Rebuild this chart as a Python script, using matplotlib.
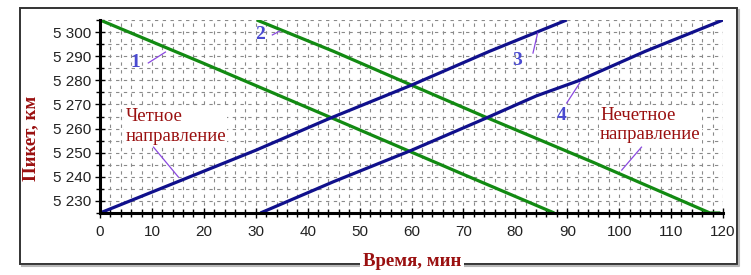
import matplotlib.pyplot as plt
from matplotlib.patches import Rectangle
from matplotlib.lines import Line2D
from matplotlib.ticker import MultipleLocator, FuncFormatter

# train paths: time (min) vs picket (km)
t1 = [0, 20, 44, 70, 87.5]
p1 = [5305, 5287, 5265, 5241, 5225]
t2 = [30.2, 45, 60, 74, 95, 117.5, 119.5]
p2 = [5305, 5292, 5278, 5265, 5246, 5225, 5225]
t3 = [0, 15, 30, 44, 60, 75, 89.9]
p3 = [5225, 5238, 5251, 5264, 5278, 5292, 5305]
t4 = [30.9, 45, 60, 74, 84, 92.4, 105, 120]
p4 = [5225, 5238, 5251, 5264, 5273.5, 5280, 5292, 5305]

x_ticks = list(range(0, 121, 10))
y_ticks = list(range(5230, 5301, 10))

green = '#128a12'
navy = '#10108c'
violet = '#8a48e0'
label_blue = '#4a4ad0'
dark_red = '#9a1010'

fig = plt.figure(figsize=(7.51, 2.75), dpi=100)
ax = fig.add_axes([100/751, 1-213/275, 623/751, 193/275])

ax.plot(t1, p1, color=green, lw=2.3, solid_capstyle='butt')
ax.plot(t2, p2, color=green, lw=2.3, solid_capstyle='butt')
ax.plot(t3, p3, color=navy, lw=2.3, solid_capstyle='butt')
ax.plot(t4, p4, color=navy, lw=2.3, solid_capstyle='butt')

ax.set_xlim(0, 120)
ax.set_ylim(5225, 5305)
ax.set_xticks(x_ticks)
ax.set_yticks(y_ticks)
ax.xaxis.set_minor_locator(MultipleLocator(2))
ax.yaxis.set_minor_locator(MultipleLocator(5))
ax.yaxis.set_major_formatter(FuncFormatter(lambda v, p: f"{int(v):,}".replace(",", " ")))

ax.grid(True, which='both', axis='x', color='#8a8a8a', lw=0.8, ls=(0, (3, 4)))
ax.grid(True, which='both', axis='y', color='#8a8a8a', lw=0.8, ls=(0, (3, 4)))
ax.set_axisbelow(True)

for s in ['top', 'right']:
    ax.spines[s].set_visible(False)
for s in ['left', 'bottom']:
    ax.spines[s].set_linewidth(2.2)
    ax.spines[s].set_color('black')

ax.tick_params(which='both', direction='inout', colors='black', width=1.0,
               labelsize=11, labelfontfamily='Liberation Sans')
ax.tick_params(which='major', length=7)
ax.tick_params(which='minor', length=6)
ax.tick_params(axis='x', pad=5)
ax.tick_params(axis='y', pad=3)
for lab in ax.get_xticklabels() + ax.get_yticklabels():
    lab.set_color('#222222')

# numbered labels with leader lines
nums = [('1', 6.8, 5287.2, (9.3, 12.6), (5287.2, 5291.7)),
        ('2', 30.9, 5298.8, (33.2, 34.6), (5298.8, 5300.4)),
        ('3', 80.3, 5288.4, (83.4, 84.3), (5291.3, 5299.6)),
        ('4', 88.9, 5265.6, (89.9, 92.4), (5270.6, 5278.9))]
for txt, x, y, lx, ly in nums:
    ax.text(x, y, txt, color=label_blue, fontsize=14, fontweight='bold',
            family='Liberation Serif', ha='center', va='center')
    ax.plot(lx, ly, color=violet, lw=0.9)

ax.text(4.9, 5268.5, 'Четное\nнаправление', color=dark_red, fontsize=13.5,
        family='Liberation Serif', ha='left', va='top', linespacing=1.2,
        bbox=dict(facecolor='white', edgecolor='none', pad=1))
ax.plot([10.3, 15.1], [5252.3, 5239.9], color=violet, lw=0.9)

ax.text(96.3, 5269.0, 'Нечетное\nнаправление', color=dark_red, fontsize=13.5,
        family='Liberation Serif', ha='left', va='top', linespacing=1.2,
        bbox=dict(facecolor='white', edgecolor='none', pad=1))
ax.plot([104.3, 100.5], [5252.3, 5242.8], color=violet, lw=0.9)

# outer frame with shadow
fx0, fy0, fx1, fy1 = 20/751, 1-264/275, 737/751, 1-8/275
fig.add_artist(Line2D([fx0 + 2/751, fx1 + 2/751, fx1 + 2/751],
                      [fy0 - 2/275, fy0 - 2/275, fy1 - 2/275],
                      color='#b8b8b8', lw=1.5, transform=fig.transFigure))
fig.add_artist(Rectangle((fx0, fy0), fx1 - fx0, fy1 - fy0, fill=False,
                         edgecolor='#333333', lw=1.4, transform=fig.transFigure))

fig.text(412/751, 1-262/275, 'Время, мин', color=dark_red, fontsize=13.5,
         fontweight='bold', family='Liberation Serif', ha='center', va='center',
         bbox=dict(facecolor='white', edgecolor='none', pad=2))
fig.text(31/751, 1-138/275, 'Пикет, км', color=dark_red, fontsize=13.5,
         fontweight='bold', family='Liberation Serif', ha='center', va='center',
         rotation=90)

fig.savefig('out.png', dpi=100)
